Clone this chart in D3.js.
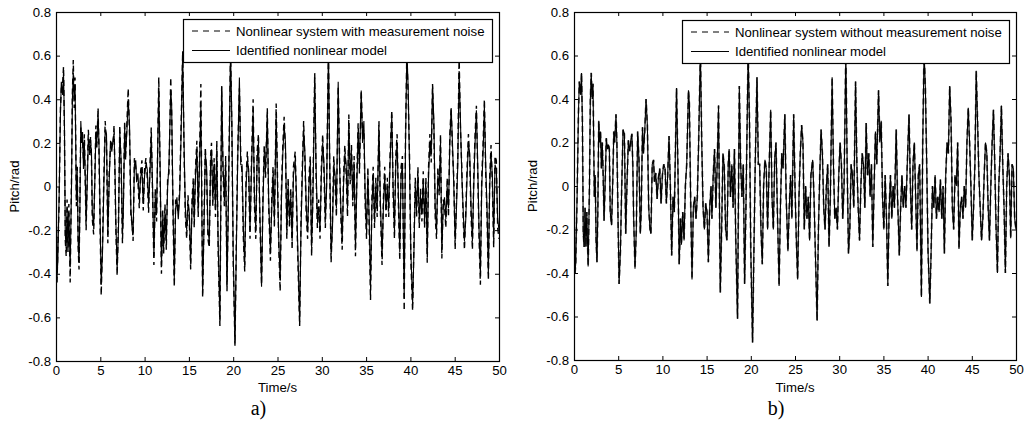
<!DOCTYPE html>
<html>
<head>
<meta charset="utf-8">
<script src="https://cdn.jsdelivr.net/npm/d3@7"></script>
<style>
  body { margin: 0; background: #fff; }
  svg text { font-family: "Liberation Sans", Arial, sans-serif; fill: #000; }
</style>
</head>
<body>
<div id="chart"></div>
<script>
const WIDTH = 1031;
const HEIGHT = 428;

// sample instants (s)
const sampleTimes = [
  0,0.12,0.2,0.35,0.5,0.6,0.75,0.85,0.95,1.05,1.15,1.25,1.35,1.45,1.6,1.75,1.85,1.95,2.05,2.15,2.3,2.4,2.5,2.6,2.7,2.8,2.9,3.0,3.1,3.2,3.3,3.4,3.55,3.65,3.8,3.9,4.0,4.1,4.25,4.4,4.5,4.6,4.75,4.85,
  5.0,5.1,5.25,5.4,5.55,5.7,5.85,6.0,6.15,6.3,6.45,6.55,6.65,6.75,6.9,7.05,7.2,7.35,7.5,7.6,7.75,7.85,8.0,8.15,8.3,8.45,8.6,8.7,8.85,9.0,9.1,9.25,9.4,9.55,9.7,9.85,
  10.0,10.15,10.3,10.45,10.6,10.75,10.9,11.05,11.2,11.35,11.6,11.75,11.9,12.05,12.15,12.3,12.45,12.6,12.75,12.95,13.05,13.2,13.35,13.5,13.65,13.8,13.95,14.1,14.3,14.45,14.6,14.75,14.9,
  15.05,15.2,15.35,15.5,15.6,15.75,15.9,16.05,16.2,16.35,16.55,16.7,16.85,17.0,17.15,17.3,17.45,17.55,17.7,17.85,18.0,18.15,18.3,18.5,18.7,18.85,19.0,19.15,19.3,19.45,19.7,19.85,
  20.0,20.2,20.35,20.5,20.7,20.85,21.0,21.15,21.3,21.45,21.6,21.75,21.9,22.05,22.25,22.4,22.55,22.7,22.85,23.0,23.2,23.35,23.5,23.65,23.85,24.0,24.2,24.35,24.5,24.65,24.85,
  25.0,25.15,25.3,25.45,25.6,25.75,25.9,26.05,26.2,26.35,26.5,26.65,26.8,27.0,27.15,27.3,27.5,27.65,27.8,27.95,28.1,28.25,28.4,28.55,28.7,28.85,29.0,29.2,29.35,29.5,29.65,29.8,29.95,
  30.1,30.25,30.4,30.55,30.75,30.9,31.05,31.2,31.35,31.5,31.65,31.85,32.0,32.15,32.3,32.45,32.6,32.75,32.9,33.05,33.2,33.35,33.5,33.65,33.8,33.95,34.1,34.25,34.45,34.6,34.75,34.9,
  35.05,35.2,35.35,35.5,35.65,35.8,35.95,36.1,36.25,36.45,36.6,36.8,36.95,37.1,37.25,37.4,37.55,37.7,37.9,38.05,38.2,38.35,38.5,38.65,38.8,38.95,39.1,39.3,39.45,39.6,39.75,39.9,
  40.05,40.25,40.4,40.55,40.7,40.85,41.0,41.15,41.3,41.45,41.6,41.75,41.9,42.05,42.2,42.35,42.5,42.65,42.8,42.95,43.1,43.25,43.4,43.55,43.7,43.85,44.0,44.15,44.3,44.45,44.6,44.75,44.9,
  45.05,45.2,45.35,45.5,45.65,45.8,45.95,46.1,46.25,46.4,46.55,46.7,46.85,47.0,47.15,47.3,47.45,47.6,47.75,47.9,48.05,48.2,48.35,48.5,48.65,48.8,48.95,49.1,49.25,49.4,49.55,49.7,49.85,50.0
];

// pitch of the system without noise / identified model (rad)
const pitchModel = [
  -0.03,-0.40,-0.35,-0.05,0.33,0.48,0.42,0.52,0.30,-0.22,-0.28,-0.10,-0.28,-0.12,-0.37,0.00,0.40,0.52,0.40,0.47,-0.05,0.05,-0.25,-0.35,-0.10,0.30,0.20,0.25,0.08,0.20,0.05,-0.16,0.05,0.22,0.17,0.19,0.17,-0.12,-0.18,0.05,0.25,0.20,0.33,0.20,
  -0.20,-0.45,-0.30,0.00,0.26,0.24,-0.22,0.02,0.21,0.16,0.22,0.24,0.10,-0.15,-0.38,-0.20,0.25,0.12,-0.22,-0.12,0.27,0.15,0.25,0.40,0.28,-0.10,-0.20,-0.22,0.10,0.12,0.02,0.06,-0.06,0.04,0.08,-0.08,
  0.05,0.10,0.08,-0.08,0.05,0.23,0.00,-0.32,-0.05,-0.12,0.45,0.10,-0.36,-0.15,-0.27,-0.12,-0.25,0.00,0.10,0.44,0.38,-0.07,-0.43,-0.10,-0.05,-0.15,-0.05,0.20,0.62,0.20,-0.10,-0.20,-0.08,
  -0.12,-0.35,-0.10,0.00,-0.15,0.05,0.17,-0.10,0.10,0.37,-0.49,-0.20,0.15,0.09,-0.20,-0.25,0.10,0.17,-0.05,0.10,-0.10,0.17,-0.25,-0.61,0.46,0.10,-0.05,0.10,-0.45,-0.10,0.62,0.30,
  -0.30,-0.72,-0.30,0.10,0.50,0.10,0.10,-0.20,-0.36,0.00,0.12,0.08,-0.20,0.05,0.35,-0.05,-0.20,0.12,0.20,-0.10,-0.46,-0.10,0.15,0.08,0.33,-0.05,-0.30,-0.10,0.05,-0.15,0.33,
  0.00,-0.25,-0.43,-0.05,0.15,0.28,0.20,-0.20,0.00,-0.15,-0.05,-0.25,0.05,0.12,-0.05,-0.30,-0.62,-0.20,0.05,0.26,0.15,-0.10,-0.20,0.00,0.10,-0.28,-0.05,0.50,0.10,-0.15,-0.10,-0.20,0.05,
  0.20,0.10,-0.15,0.00,0.62,0.10,-0.31,-0.20,0.10,0.05,-0.10,0.48,0.10,-0.10,-0.25,0.00,0.15,0.10,-0.10,0.29,0.05,0.15,-0.05,0.10,-0.28,0.00,0.25,0.10,0.44,0.20,0.30,-0.05,
  -0.20,0.05,-0.15,-0.46,-0.10,0.05,-0.15,0.00,-0.10,0.26,-0.05,-0.32,-0.10,0.05,-0.10,0.00,-0.10,0.10,0.33,0.00,-0.20,0.10,0.20,-0.05,-0.30,0.05,0.10,-0.51,0.20,0.62,0.45,0.10,
  -0.30,-0.54,-0.30,0.00,-0.10,0.05,-0.15,-0.05,-0.12,0.03,-0.15,0.00,-0.31,0.05,0.20,0.15,0.46,0.30,-0.10,-0.20,0.05,0.00,0.20,-0.29,-0.10,-0.05,-0.15,0.00,-0.10,0.20,0.36,0.20,0.00,
  -0.25,-0.10,0.10,0.53,0.30,0.05,-0.10,-0.25,-0.15,0.05,0.20,0.15,-0.10,-0.25,0.00,0.20,0.35,0.10,-0.20,-0.40,0.00,0.15,0.37,0.10,-0.10,-0.40,0.00,0.15,0.05,-0.24,0.10,0.08,-0.15,-0.20
];

// pitch measured with noise, panel a (rad)
const pitchNoisy = [
  0.02,-0.44,-0.30,-0.08,0.36,0.45,0.47,0.55,0.26,-0.25,-0.32,-0.06,-0.30,-0.08,-0.44,0.04,0.43,0.58,0.36,0.50,-0.09,0.09,-0.28,-0.38,-0.06,0.27,0.24,0.21,0.12,0.24,0.02,-0.20,0.09,0.26,0.14,0.23,0.13,-0.15,-0.22,0.08,0.28,0.17,0.36,0.16,
  -0.24,-0.50,-0.26,0.04,0.30,0.20,-0.26,0.06,0.18,0.20,0.19,0.28,0.06,-0.19,-0.41,-0.16,0.28,0.09,-0.26,-0.09,0.30,0.12,0.29,0.45,0.24,-0.14,-0.17,-0.25,0.13,0.09,0.05,0.02,-0.10,0.07,0.12,-0.11,
  0.08,0.13,0.04,-0.12,0.09,0.27,-0.04,-0.36,-0.01,-0.16,0.50,0.06,-0.40,-0.11,-0.31,-0.08,-0.29,0.04,0.06,0.50,0.34,-0.11,-0.46,-0.06,-0.09,-0.12,-0.02,0.24,0.62,0.16,-0.14,-0.24,-0.04,
  -0.16,-0.38,-0.06,0.04,-0.19,0.09,0.21,-0.14,0.14,0.47,-0.51,-0.16,0.18,0.05,-0.24,-0.28,0.14,0.20,-0.09,0.13,-0.14,0.21,-0.29,-0.64,0.46,0.06,-0.09,0.14,-0.48,-0.06,0.62,0.26,
  -0.34,-0.73,-0.26,0.14,0.45,0.14,0.06,-0.24,-0.39,0.04,0.16,0.04,-0.24,0.09,0.40,-0.09,-0.24,0.16,0.24,-0.14,-0.45,-0.06,0.19,0.04,0.36,-0.09,-0.34,-0.06,0.09,-0.19,0.38,
  0.04,-0.29,-0.48,-0.01,0.19,0.32,0.16,-0.24,0.04,-0.19,-0.01,-0.29,0.09,0.16,-0.09,-0.34,-0.64,-0.16,0.09,0.30,0.11,-0.14,-0.24,0.04,0.14,-0.32,-0.01,0.52,0.06,-0.19,-0.06,-0.24,0.09,
  0.24,0.06,-0.19,0.04,0.62,0.06,-0.35,-0.16,0.14,0.01,-0.14,0.46,0.14,-0.14,-0.29,0.04,0.19,0.06,-0.14,0.33,0.01,0.19,-0.09,0.14,-0.32,0.04,0.29,0.06,0.44,0.24,0.26,-0.09,
  -0.24,0.09,-0.19,-0.52,-0.06,0.09,-0.19,0.04,-0.14,0.30,-0.09,-0.36,-0.06,0.09,-0.14,0.04,-0.14,0.14,0.35,-0.04,-0.24,0.14,0.24,-0.09,-0.34,0.09,0.14,-0.57,0.24,0.62,0.41,0.14,
  -0.34,-0.57,-0.26,0.04,-0.14,0.09,-0.19,-0.01,-0.16,0.07,-0.19,0.04,-0.35,0.09,0.24,0.11,0.47,0.26,-0.14,-0.24,0.09,-0.04,0.24,-0.33,-0.06,-0.09,-0.19,0.04,-0.14,0.24,0.36,0.16,0.04,
  -0.29,-0.06,0.14,0.60,0.26,0.09,-0.14,-0.29,-0.11,0.09,0.24,0.11,-0.14,-0.29,0.04,0.24,0.37,0.06,-0.24,-0.45,0.04,0.19,0.40,0.06,-0.14,-0.43,0.04,0.19,0.01,-0.28,0.14,0.12,-0.19,-0.24
];

const xTicks = [0, 5, 10, 15, 20, 25, 30, 35, 40, 45, 50];
const yTicks = [-0.8, -0.6, -0.4, -0.2, 0, 0.2, 0.4, 0.6, 0.8];
const legendA = ['Nonlinear system with measurement noise', 'Identified nonlinear model'];
const legendB = ['Nonlinear system without measurement noise', 'Identified nonlinear model'];

const FONT_SIZE = '13.2px';

const svg = d3.select('#chart')
  .append('svg')
  .attr('width', WIDTH)
  .attr('height', HEIGHT);

function toPoints(values) {
  return sampleTimes.map((t, i) => [t, values[i]]);
}

function drawPanel({id, left, right, top, bottom, dashedValues, solidValues, dashedStyle, legend, legendBox, caption}) {
  const xScale = d3.scaleLinear().domain([0, 50]).range([left, right]);
  const yScale = d3.scaleLinear().domain([-0.8, 0.8]).range([bottom, top]);
  const g = svg.append('g').attr('class', 'panel-' + id);

  g.append('clipPath')
    .attr('id', 'clip-' + id)
    .append('rect')
    .attr('x', left).attr('y', top)
    .attr('width', right - left).attr('height', bottom - top);

  const line = d3.line()
    .x(d => xScale(d[0]))
    .y(d => yScale(d[1]));

  const lines = g.append('g').attr('clip-path', `url(#clip-${id})`);

  lines.append('path')
    .datum(toPoints(dashedValues))
    .attr('fill', 'none')
    .attr('stroke', dashedStyle.color)
    .attr('stroke-width', dashedStyle.width)
    .attr('stroke-dasharray', '6,4')
    .attr('d', line);

  lines.append('path')
    .datum(toPoints(solidValues))
    .attr('fill', 'none')
    .attr('stroke', '#000')
    .attr('stroke-width', 1.1)
    .attr('d', line);

  // axes with inward ticks on all four sides
  const fmt = d => (d === 0 ? '0' : String(+d.toFixed(1)));
  const xAxis = g.append('g')
    .attr('transform', `translate(0, ${bottom})`)
    .call(d3.axisBottom(xScale).tickValues(xTicks).tickSize(-4).tickSizeOuter(0).tickPadding(5));
  const yAxis = g.append('g')
    .attr('transform', `translate(${left}, 0)`)
    .call(d3.axisLeft(yScale).tickValues(yTicks).tickFormat(fmt).tickSize(-4).tickSizeOuter(0).tickPadding(5));
  const xTop = g.append('g')
    .attr('transform', `translate(0, ${top})`)
    .call(d3.axisTop(xScale).tickValues(xTicks).tickSize(-4).tickSizeOuter(0).tickFormat(''));
  const yRight = g.append('g')
    .attr('transform', `translate(${right}, 0)`)
    .call(d3.axisRight(yScale).tickValues(yTicks).tickSize(-4).tickSizeOuter(0).tickFormat(''));

  [xAxis, yAxis, xTop, yRight].forEach(a => {
    a.select('.domain').remove();
    a.selectAll('line').attr('stroke', '#000');
    a.selectAll('text')
      .style('font-family', '"Liberation Sans", Arial, sans-serif')
      .style('font-size', FONT_SIZE)
      .attr('fill', '#000');
  });

  g.append('rect')
    .attr('x', left + 0.5).attr('y', top + 0.5)
    .attr('width', right - left).attr('height', bottom - top)
    .attr('fill', 'none')
    .attr('stroke', '#000')
    .attr('stroke-width', 1.2);

  // legend
  const lg = g.append('g');
  lg.append('rect')
    .attr('x', legendBox.x + 0.5).attr('y', legendBox.y + 0.5)
    .attr('width', legendBox.w).attr('height', legendBox.h)
    .attr('fill', '#fff')
    .attr('stroke', '#000')
    .attr('stroke-width', 1.2);

  legend.forEach((label, i) => {
    const cy = legendBox.y + 12 + i * 19.5;
    lg.append('line')
      .attr('x1', legendBox.x + 9).attr('x2', legendBox.x + 47)
      .attr('y1', cy).attr('y2', cy)
      .attr('stroke', '#000')
      .attr('stroke-width', 1)
      .attr('stroke-dasharray', i === 0 ? '6,5' : null);
    lg.append('text')
      .attr('x', legendBox.x + 53)
      .attr('y', cy + 4.7)
      .style('font-size', FONT_SIZE)
      .text(label);
  });

  // axis titles
  g.append('text')
    .attr('x', (left + right) / 2)
    .attr('y', 392)
    .attr('text-anchor', 'middle')
    .style('font-size', FONT_SIZE)
    .text('Time/s');

  g.append('text')
    .attr('transform', `translate(${left - 37}, ${(top + bottom) / 2}) rotate(-90)`)
    .attr('text-anchor', 'middle')
    .style('font-size', FONT_SIZE)
    .text('Pitch/rad');

  g.append('text')
    .attr('x', (left + right) / 2 - 19)
    .attr('y', 415)
    .attr('text-anchor', 'middle')
    .style('font-family', '"Liberation Serif", "Times New Roman", serif')
    .style('font-size', '20px')
    .text(caption);
}

drawPanel({
  id: 'a',
  left: 56, right: 499, top: 12, bottom: 361,
  dashedValues: pitchNoisy,
  solidValues: pitchModel,
  dashedStyle: {color: '#000', width: 1.4},
  legend: legendA,
  legendBox: {x: 183, y: 19, w: 309, h: 43},
  caption: 'a)'
});

drawPanel({
  id: 'b',
  left: 574, right: 1016, top: 12, bottom: 360,
  dashedValues: pitchModel,
  solidValues: pitchModel,
  dashedStyle: {color: '#444', width: 1.7},
  legend: legendB,
  legendBox: {x: 682, y: 20, w: 327, h: 43},
  caption: 'b)'
});
</script>
</body>
</html>
